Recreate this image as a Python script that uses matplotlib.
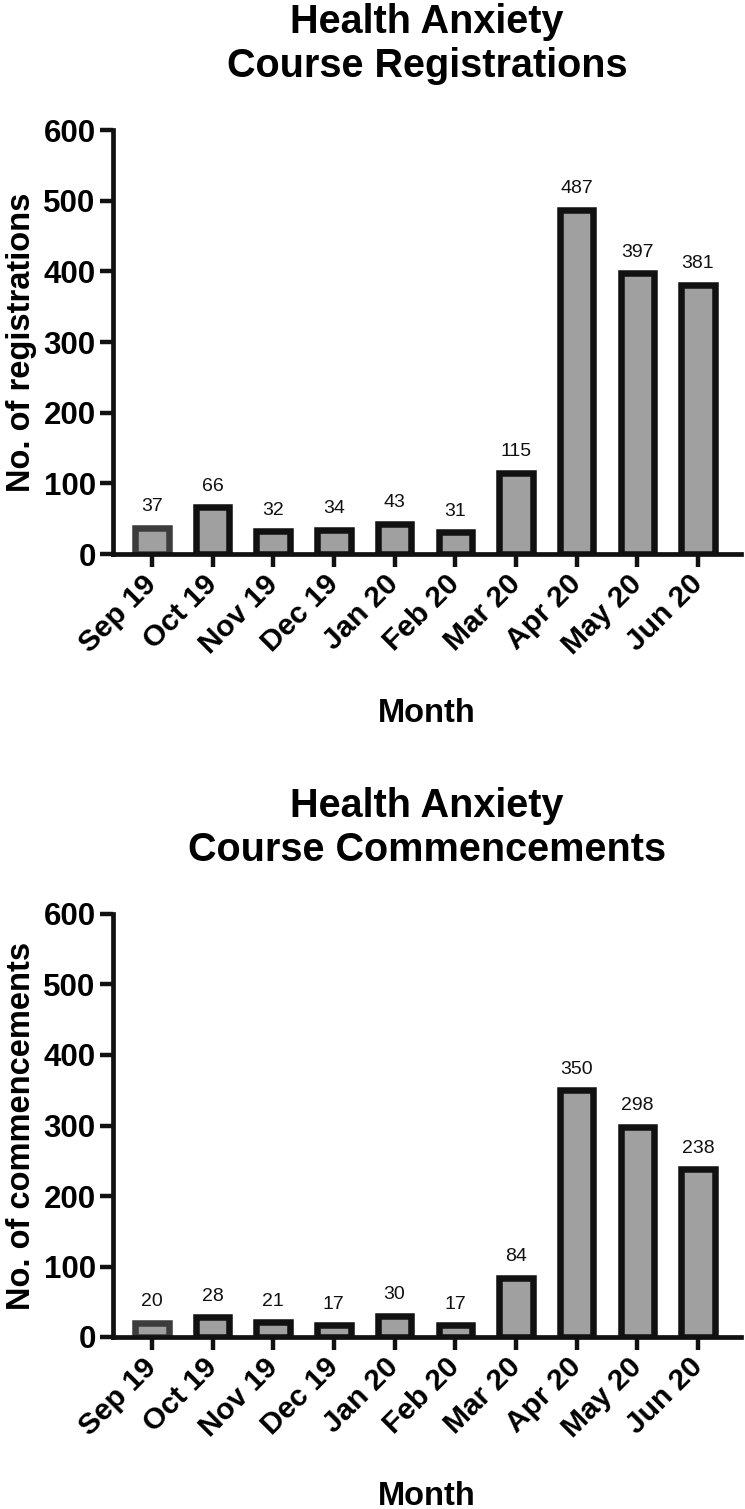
import matplotlib
matplotlib.use("Agg")
import matplotlib.pyplot as plt

months = ["Sep 19", "Oct 19", "Nov 19", "Dec 19", "Jan 20",
          "Feb 20", "Mar 20", "Apr 20", "May 20", "Jun 20"]
registrations = [37, 66, 32, 34, 43, 31, 115, 487, 397, 381]
commencements = [20, 28, 21, 17, 30, 17, 84, 350, 298, 238]

plt.rcParams['font.family'] = ['Liberation Sans', 'DejaVu Sans']

W, H = 745, 1509
fig = plt.figure(figsize=(W / 100, H / 100), dpi=100)


def draw_panel(rect, values, title, ylabel):
    ax = fig.add_axes(rect)
    x = list(range(len(values)))
    edges = ['#3c3c3c'] + ['#111111'] * (len(values) - 1)
    ax.bar(x, values, width=0.55, color='#a0a0a0', edgecolor=edges,
           linewidth=4.7, zorder=2)
    for xi, v in zip(x, values):
        ax.annotate(str(v), (xi, v), xytext=(0, 9), textcoords='offset points',
                    ha='center', va='bottom', fontsize=14, color='#111111')

    ax.set_xlim(-0.64, 9.71)
    ax.set_ylim(0, 600)
    ax.set_yticks(range(0, 601, 100))
    ax.set_xticks(x)
    ax.set_xticklabels(months, rotation=45, ha='right', va='center',
                       rotation_mode='anchor', fontsize=21.5, fontweight='bold')
    for lab in ax.get_yticklabels():
        lab.set_fontsize(22.5)
        lab.set_fontweight('bold')

    for s in ['top', 'right']:
        ax.spines[s].set_visible(False)
    for s in ['left', 'bottom']:
        ax.spines[s].set_linewidth(3.4)
        ax.spines[s].set_color('#111111')
    ax.tick_params(axis='both', length=9.5, width=3.2, color='#111111')
    ax.tick_params(axis='x', pad=9)
    ax.tick_params(axis='y', pad=3)

    ax.set_xlabel('Month', fontsize=23.5, fontweight='bold')
    ax.xaxis.set_label_coords(0.5, -0.34)
    ax.set_ylabel(ylabel, fontsize=23.5, fontweight='bold')
    ax.yaxis.set_label_coords(-0.121, 0.5)
    ax.set_title(title, fontsize=28.5, fontweight='bold', pad=38,
                 linespacing=1.2)
    return ax


draw_panel([113 / W, 1 - 554 / H, (741 - 113) / W, 424 / H], registrations,
           'Health Anxiety\nCourse Registrations', 'No. of registrations')
draw_panel([113 / W, 1 - 1337 / H, (741 - 113) / W, 423 / H], commencements,
           'Health Anxiety\nCourse Commencements', 'No. of commencements')

fig.savefig('out.png', dpi=100)
